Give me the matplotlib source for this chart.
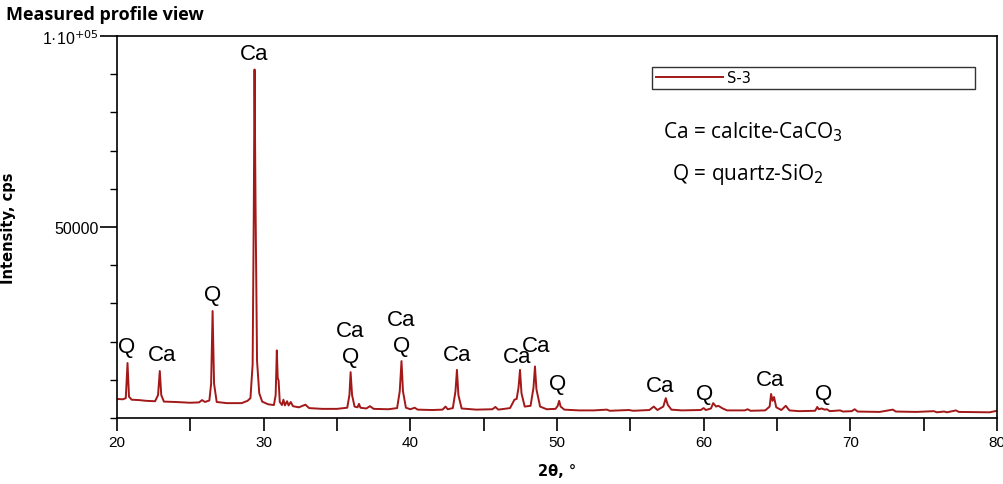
import matplotlib
matplotlib.use('Agg')
import matplotlib.pyplot as plt
from matplotlib.ticker import MultipleLocator, FixedLocator, FixedFormatter

# Difractograma S-3
two_theta = [20.00, 20.40, 20.60, 20.72, 20.82, 21.00, 21.50, 22.00, 22.60, 22.80,
             22.92, 23.02, 23.20, 24.00, 25.00, 25.60, 25.80, 26.00, 26.30, 26.42,
             26.52, 26.62, 26.80, 27.50, 28.50, 28.90, 29.10, 29.25, 29.33, 29.38,
             29.45, 29.55, 29.70, 29.90, 30.30, 30.70, 30.82, 30.90, 30.96, 31.02,
             31.10, 31.25, 31.35, 31.45, 31.60, 31.70, 31.85, 32.00, 32.40, 32.85,
             33.10, 34.00, 35.00, 35.70, 35.85, 35.93, 36.03, 36.20, 36.40, 36.50,
             36.60, 37.00, 37.25, 37.50, 38.50, 39.10, 39.28, 39.40, 39.50, 39.70,
             40.00, 40.30, 40.50, 41.50, 42.20, 42.40, 42.55, 42.90, 43.08, 43.18,
             43.28, 43.50, 44.50, 45.60, 45.80, 46.00, 46.80, 47.10, 47.25, 47.38,
             47.48, 47.58, 47.80, 48.20, 48.40, 48.50, 48.60, 48.85, 49.30, 49.90,
             50.05, 50.15, 50.25, 50.50, 51.50, 52.50, 53.40, 53.60, 54.90, 55.20,
             56.30, 56.60, 56.85, 57.25, 57.42, 57.55, 57.80, 58.50, 59.80, 60.00,
             60.15, 60.50, 60.65, 60.85, 61.00, 61.30, 61.60, 62.80, 63.00, 63.20,
             64.20, 64.50, 64.60, 64.70, 64.80, 64.95, 65.30, 65.60, 65.85, 66.50,
             67.60, 67.75, 67.85, 68.05, 68.25, 68.40, 68.60, 69.30, 69.50, 70.10,
             70.30, 70.50, 72.00, 72.90, 73.10, 74.50, 75.70, 75.90, 76.40, 76.60,
             77.20, 77.40, 79.50, 80.00]
cps = [5000, 4900, 5200, 14400, 5600, 4800, 4700, 4500, 4400, 6000,
       12300, 6000, 4300, 4200, 4000, 4100, 4700, 4200, 4600, 9000,
       28000, 9000, 4200, 3900, 3900, 4500, 5200, 14000, 55000, 91200,
       55000, 15000, 6500, 4300, 3600, 3400, 6000, 17700, 10500, 9800,
       4200, 3400, 4800, 3300, 4400, 3300, 4200, 3100, 2800, 3500,
       2600, 2400, 2400, 2700, 6000, 12000, 6000, 3000, 2800, 3700,
       2700, 2500, 3100, 2400, 2300, 2600, 7000, 14900, 7000, 2700,
       2300, 2700, 2200, 2100, 2200, 3000, 2300, 2600, 7000, 12600,
       6000, 2500, 2200, 2300, 2900, 2200, 2600, 4800, 5000, 8000,
       12600, 6500, 3000, 3200, 8000, 13500, 7500, 3000, 2300, 2400,
       3200, 4500, 3000, 2200, 2000, 2000, 2200, 1900, 2100, 1900,
       2100, 3000, 2100, 3000, 5200, 3500, 2200, 2000, 2100, 2600,
       2100, 2500, 3900, 3000, 3200, 2500, 2000, 2000, 2300, 1900,
       2000, 3000, 6300, 4500, 5500, 2800, 2100, 3200, 2000, 1800,
       1900, 2900, 2300, 2500, 2200, 2300, 1800, 2000, 1700, 1800,
       2300, 1700, 1600, 2200, 1700, 1600, 1800, 1500, 1700, 1500,
       2000, 1600, 1500, 1900]

# Etiquetas de fases: texto, posicion 2theta, intensidad
etiquetas = ['Q', 'Ca', 'Q', 'Ca', 'Ca', 'Q', 'Ca', 'Q', 'Ca', 'Ca', 'Ca', 'Q', 'Ca', 'Q', 'Ca', 'Q']
etiq_x = [20.65, 23.05, 26.55, 29.35, 35.9, 35.9, 39.4, 39.4, 43.2, 47.3, 48.6, 50.05, 57.05, 60.05, 64.55, 68.2]
etiq_y = [18800, 16700, 32200, 95500, 22900, 16100, 25800, 18900, 16700, 16200, 18900, 9100, 8600, 6300, 10200, 6500]

fig = plt.figure(figsize=(10.04, 4.85), dpi=100)
ax = fig.add_axes([0.1165, 0.136, 0.8765, 0.788])

ax.plot(two_theta, cps, color='#a31818', linewidth=1.4, label='S-3')

for txt, x, y in zip(etiquetas, etiq_x, etiq_y):
    ax.text(x, y, txt, ha='center', va='center', fontsize=16, family='Liberation Sans')

ax.text(0.621, 0.75, 'Ca = calcite-CaCO$_3$', transform=ax.transAxes, fontsize=15,
        family='Open Sans', va='center')
ax.text(0.631, 0.64, 'Q = quartz-SiO$_2$', transform=ax.transAxes, fontsize=15,
        family='Open Sans', va='center')

ax.set_xlim(20, 80)
ax.set_ylim(0, 100000)
ax.xaxis.set_major_locator(MultipleLocator(10))
ax.xaxis.set_minor_locator(MultipleLocator(5))
ax.yaxis.set_major_locator(FixedLocator([50000, 100000]))
ax.yaxis.set_major_formatter(FixedFormatter(['50000', '1·10$^{+05}$']))
ax.yaxis.set_minor_locator(MultipleLocator(10000))
ax.tick_params(axis='x', which='both', direction='out', length=9, width=1.2, labelsize=11, pad=3)
ax.tick_params(axis='y', which='major', direction='out', length=12, width=1.2, labelsize=11.5, pad=1)
ax.tick_params(axis='y', which='minor', direction='out', length=5, width=1.0)
for lab in ax.get_xticklabels() + ax.get_yticklabels():
    lab.set_family('Liberation Sans')
for s in ax.spines.values():
    s.set_linewidth(1.2)

ax.set_xlabel('2θ, °', fontsize=10.5, fontweight='bold', labelpad=10)
ax.set_ylabel('Intensity, cps', fontsize=10.5, fontweight='bold')
ax.yaxis.set_label_coords(-0.115, 0.5)

leg = ax.legend(loc='upper left', bbox_to_anchor=(0.608, 0.848, 0.367, 0.071), mode='expand',
                borderaxespad=0, fancybox=False, edgecolor='#333333', framealpha=1,
                handlelength=4.6, handletextpad=0.3, borderpad=0.25, fontsize=10.5)
leg.get_frame().set_linewidth(1.0)

fig.text(0.006, 0.97, 'Measured profile view', fontsize=13, fontweight='bold',
         family='Open Sans', va='center', ha='left')

fig.savefig('out.png', dpi=100)
